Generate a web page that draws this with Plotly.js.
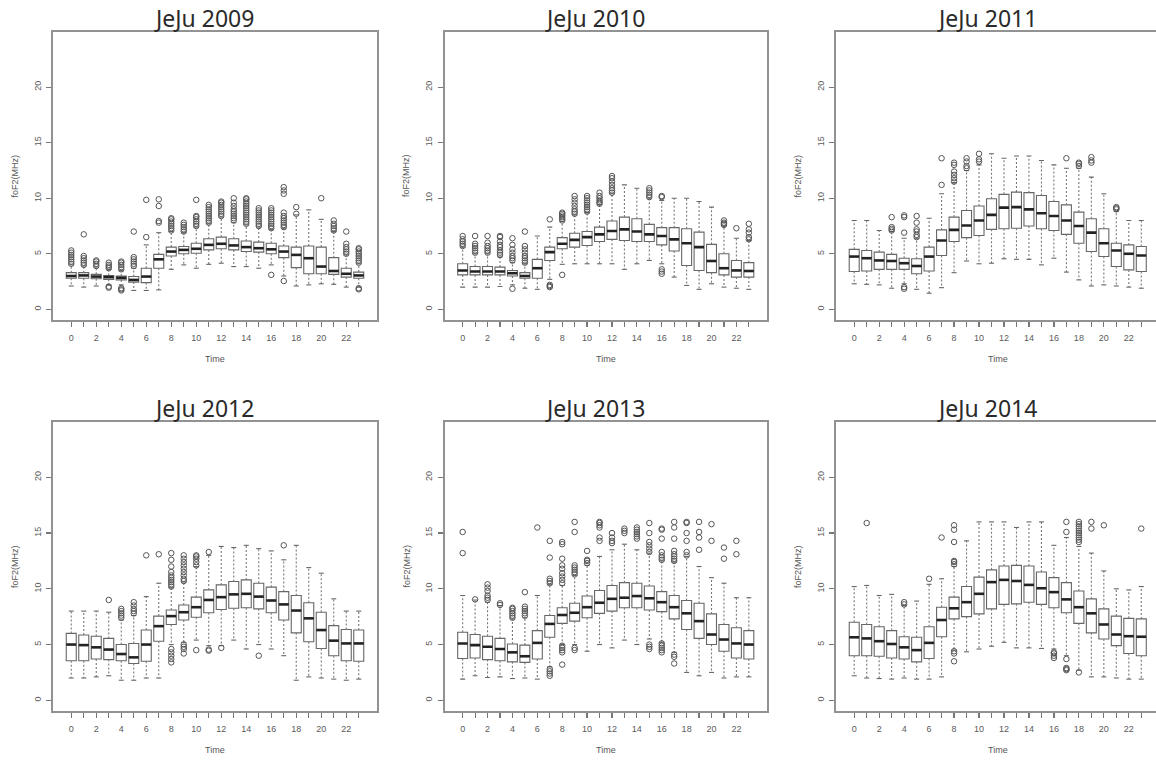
<!DOCTYPE html>
<html>
<head>
<meta charset="utf-8">
<script src="https://cdn.plot.ly/plotly-3.0.1.min.js"></script>
<style>
html,body{margin:0;padding:0;background:#fff;overflow:hidden;width:1156px;height:760px;}
#chart{width:1170px;height:760px;}
</style>
</head>
<body>
<div id="chart"></div>
<script>
// ---------- data ----------
const hours = [0,1,2,3,4,5,6,7,8,9,10,11,12,13,14,15,16,17,18,19,20,21,22,23];
const hourLabels = ["0","","2","","4","","6","","8","","10","","12","","14","","16","","18","","20","","22",""];
const yTicks = [0,5,10,15,20];
const years = [2009,2010,2011,2012,2013,2014];

const lo2009  = [2.1,2.0,2.1,2.2,2.2,1.7,1.7,1.75,3.6,4.0,3.7,4.05,4.15,3.85,3.85,3.7,4.0,3.0,2.1,2.2,2.3,2.25,2.0,2.0];
const q1_2009 = [2.8,2.8,2.75,2.7,2.65,2.45,2.4,3.7,4.8,5.0,5.05,5.35,5.45,5.35,5.2,5.15,5.0,4.65,3.75,3.2,3.2,3.15,2.9,2.8];
const med2009 = [3.0,3.05,2.95,2.9,2.85,2.65,2.95,4.5,5.2,5.35,5.45,5.8,5.9,5.75,5.6,5.5,5.4,5.2,4.9,4.6,3.85,3.45,3.2,3.05];
const q3_2009 = [3.3,3.3,3.15,3.05,3.0,2.95,3.7,4.95,5.6,5.65,5.95,6.35,6.5,6.35,6.15,6.05,5.95,5.7,5.6,5.7,5.6,4.65,3.7,3.35];
const hi2009  = [4.0,3.9,3.8,3.6,3.5,3.7,5.8,6.9,7.0,6.9,7.4,7.7,8.3,7.8,7.6,7.4,7.2,7.3,8.5,8.95,8.1,7.0,4.9,4.1];
const out2009 = [[4.1,4.3,4.5,4.7,4.9,5.1,5.3],[4.0,4.2,4.4,4.6,4.8,6.75],[3.9,4.1,4.3,4.4],[1.95,2.05,3.7,3.85,4.0,4.2],
  [1.7,1.8,1.9,3.6,3.8,4.0,4.2,4.3],[3.9,4.1,4.3,4.5,4.7,7.0],[6.5,9.85],[7.8,7.95,9.3,9.9],
  [7.1,7.3,7.5,7.7,7.9,8.1,8.2],[7.0,7.2,7.4,7.6,7.8],[7.5,7.7,7.9,8.1,8.3,8.4,9.85],[7.8,8.0,8.2,8.4,8.6,8.8,9.0,9.2,9.4],
  [8.4,8.6,8.8,9.0,9.2,9.4,9.6,9.7],[8.0,8.2,8.4,8.6,8.8,9.0,9.3,9.6,10.0],[7.7,7.9,8.1,8.3,8.5,8.7,8.9,9.1,9.3,9.5,9.7,9.9,10.0],[7.5,7.7,7.9,8.1,8.3,8.5,8.7,8.9,9.1],
  [3.1,7.3,7.5,7.7,7.9,8.1,8.3,8.5,8.7,8.9,9.1],[2.55,7.4,7.6,7.8,8.0,8.2,8.4,8.7,10.4,10.7,11.0],[8.6,9.2],[],
  [10.0],[7.1,7.3,7.5,7.7,8.0],[5.0,5.2,5.4,5.6,5.9,7.0],[1.8,1.9,4.2,4.4,4.6,4.8,5.0,5.2,5.4,5.5]];

const lo2010  = [2.0,2.0,2.0,2.05,2.2,1.9,1.8,2.7,4.05,4.1,4.1,4.1,4.1,3.6,4.1,4.4,4.1,2.9,2.15,1.8,2.3,2.0,1.9,1.8];
const q1_2010 = [3.1,3.1,3.1,3.1,3.0,2.8,2.8,4.4,5.45,5.6,5.75,6.1,6.3,6.2,6.1,6.1,5.8,5.25,3.95,3.5,3.3,3.1,2.9,2.9];
const med2010 = [3.5,3.4,3.4,3.4,3.25,3.0,3.7,5.15,5.9,6.25,6.5,6.75,7.05,7.2,7.0,6.75,6.6,6.3,5.95,5.6,4.35,3.7,3.5,3.45];
const q3_2010 = [4.1,3.85,3.85,3.8,3.5,3.3,4.5,5.6,6.45,6.85,7.0,7.4,7.95,8.3,8.15,7.65,7.35,7.35,7.25,6.95,5.85,5.0,4.4,4.2];
const hi2010  = [5.6,5.0,5.0,4.7,4.2,4.1,6.6,7.4,7.9,8.5,8.7,9.4,10.4,11.2,10.9,10.0,9.8,10.0,10.0,9.7,9.2,7.5,6.4,6.2];
const out2010 = [[5.7,5.9,6.1,6.3,6.6],[5.1,5.3,5.5,5.7,5.9,6.6],[5.1,5.3,5.5,5.7,6.0,6.6],[4.9,5.1,5.3,5.6,5.8,6.1,6.5,6.6],
  [1.85,4.4,4.6,4.8,5.1,5.4,5.8,6.4],[4.2,4.4,4.6,4.8,5.1,5.4,5.7,7.0],[],[2.0,2.1,2.2,8.1],
  [3.1,8.0,8.15,8.3,8.45,8.6,8.7],[8.6,8.8,9.0,9.3,9.6,9.9,10.2],[8.8,9.0,9.2,9.4,9.6,9.8,10.0,10.2],[9.5,9.65,9.8,10.0,10.2,10.5],
  [10.5,10.7,10.9,11.2,11.5,11.8,12.0],[],[],[10.1,10.3,10.5,10.7,10.9],
  [3.2,3.4,3.6,10.1,10.2],[],[],[],
  [],[7.6,7.7,7.8,8.0],[7.3],[6.3,6.5,6.9,7.2,7.7]];

const lo2011  = [2.3,2.25,2.2,1.9,2.3,1.8,1.45,1.95,3.3,4.35,4.1,4.15,4.55,4.5,4.5,4.0,4.6,3.35,2.65,2.1,2.2,2.1,2.0,1.9];
const q1_2011 = [3.4,3.45,3.6,3.6,3.6,3.2,3.45,4.85,6.1,6.45,6.65,7.2,7.25,7.3,7.5,7.25,7.1,6.75,5.95,5.2,4.75,3.85,3.55,3.4];
const med2011 = [4.75,4.6,4.4,4.35,4.15,3.9,4.75,6.2,7.15,7.55,8.0,8.5,9.15,9.2,9.0,8.65,8.4,8.0,7.5,6.9,5.95,5.3,5.0,4.85];
const q3_2011 = [5.4,5.3,5.15,4.95,4.6,4.55,5.6,7.15,8.3,8.9,9.3,9.95,10.35,10.55,10.5,10.25,9.7,9.4,8.75,8.15,7.25,5.95,5.8,5.65];
const hi2011  = [8.0,8.0,7.1,7.0,6.4,6.4,8.2,10.4,11.4,12.5,13.0,14.0,13.6,13.8,13.8,13.4,13.0,12.7,12.7,11.9,10.4,8.8,8.0,8.0];
const out2011 = [[],[],[],[7.1,7.25,7.4,8.3],
  [1.85,2.0,6.9,8.3,8.45],[6.5,6.7,7.0,7.2,7.8,8.4],[],[11.2,13.6],
  [11.5,11.8,12.1,12.4,13.0,13.2],[12.7,12.9,13.3,13.6],[13.3,13.5,14.0],[],
  [],[],[],[],
  [],[13.6],[12.9,13.1,13.2],[13.2,13.4,13.7],
  [],[9.0,9.1,9.2],[],[]];

const lo2012  = [2.0,2.0,2.1,2.2,1.8,1.8,2.0,2.0,5.0,5.2,5.4,4.9,4.9,5.4,4.6,5.0,4.6,4.0,1.8,2.1,2.0,1.9,1.8,1.9];
const q1_2012 = [3.55,3.55,3.7,3.65,3.55,3.3,3.5,5.3,6.8,7.2,7.45,7.85,8.15,8.25,8.3,8.2,7.85,7.2,6.05,5.25,4.65,4.0,3.55,3.5];
const med2012 = [5.0,4.95,4.75,4.55,4.15,3.85,5.0,6.65,7.55,7.9,8.35,9.0,9.25,9.5,9.55,9.3,8.95,8.6,8.05,7.35,6.3,5.35,5.1,5.1];
const q3_2012 = [6.0,5.85,5.75,5.55,5.0,5.1,6.3,7.55,8.1,8.55,9.25,9.9,10.35,10.65,10.8,10.5,10.15,9.75,9.4,8.75,7.9,6.7,6.35,6.3];
const hi2012  = [8.0,8.0,8.0,7.9,7.2,7.6,9.3,10.5,10.1,10.6,12.0,13.0,13.8,13.7,13.9,13.6,13.4,12.6,13.9,11.9,11.4,9.1,8.0,8.0];
const out2012 = [[],[],[],[9.0],
  [7.4,7.6,7.8,8.0,8.2],[7.8,8.0,8.2,8.5,8.8],[13.0],[13.1],
  [3.4,3.7,4.0,4.3,4.6,10.2,10.4,10.6,10.8,11.0,11.2,11.5,12.0,12.6,13.2],[4.2,4.6,4.8,5.0,10.7,10.9,11.2,11.5,11.8,12.1,12.4,12.7,13.0],[4.5,12.1,12.4,12.7,12.9,13.0],[4.45,4.55,13.3],
  [4.7],[],[],[4.0],
  [],[13.9],[],[],
  [],[],[],[]];

const lo2013  = [1.9,2.2,2.05,2.1,1.95,2.0,1.9,3.0,5.0,5.0,4.4,5.0,4.7,5.4,5.0,5.5,5.2,4.3,2.5,2.2,2.5,2.0,2.1,2.1];
const q1_2013 = [3.75,3.8,3.65,3.55,3.45,3.4,3.7,5.65,6.9,7.1,7.4,7.8,8.0,8.3,8.3,8.1,7.95,7.3,6.35,5.55,5.0,4.4,3.8,3.7];
const med2013 = [5.1,4.95,4.8,4.6,4.3,3.95,5.15,6.85,7.65,7.85,8.35,8.75,9.1,9.2,9.35,9.15,8.8,8.35,7.8,7.1,5.9,5.45,5.1,5.0];
const q3_2013 = [6.1,5.9,5.75,5.55,5.05,4.95,6.25,7.6,8.3,8.7,9.35,9.85,10.3,10.55,10.5,10.25,9.75,9.4,8.95,8.7,7.75,6.8,6.5,6.25];
const hi2013  = [9.4,9.0,8.8,8.5,7.3,7.4,9.4,10.4,10.3,11.2,12.1,12.9,13.5,14.0,13.5,13.2,12.5,12.4,12.9,12.0,11.0,10.5,9.2,9.2];
const out2013 = [[13.2,15.1],[9.05],[9.0,9.2,9.4,9.8,10.1,10.4],[8.55,8.7],
  [7.4,7.6,7.8,8.0,8.2,8.3],[7.6,7.8,8.0,8.2,8.4,9.7],[15.5],[2.2,2.4,2.6,2.8,10.5,10.7,10.9,12.8,14.3],
  [3.2,4.3,4.5,4.7,4.9,10.5,10.8,11.1,11.4,11.8,12.1,12.7,14.0,14.2],[4.5,4.7,11.3,11.5,11.7,11.9,12.1,15.1,16.0],[12.3,12.5,12.6,13.4],[14.3,14.6,15.5,15.7,15.9,16.0],
  [14.1,14.3,14.6,15.0],[15.0,15.2,15.4],[14.5,14.7,14.9,15.1,15.3,15.5],[4.6,4.8,5.0,13.3,13.6,13.9,14.2,15.0,15.9],
  [4.3,4.5,4.7,4.9,5.1,12.6,12.8,13.0,13.3,14.5,15.3,15.4],[3.3,3.9,4.1,12.5,12.7,12.9,13.1,13.4,14.5,15.5,16.0],[13.0,13.3,14.3,15.0,15.9,16.0],[13.5,14.6,15.1,16.0],
  [14.3,15.8],[12.7,13.7],[13.1,14.3],[]];

const lo2014  = [2.2,2.0,1.95,1.9,2.0,1.9,1.9,2.1,4.5,4.35,4.6,4.85,5.2,4.7,4.7,4.65,4.6,4.0,2.7,2.1,2.1,2.0,1.9,1.9];
const q1_2014 = [4.0,4.0,3.95,3.8,3.7,3.45,3.75,5.7,7.3,7.5,7.75,8.2,8.6,8.65,8.8,8.6,8.3,7.85,6.9,6.05,5.5,4.9,4.2,4.0];
const med2014 = [5.65,5.55,5.3,5.05,4.75,4.5,5.15,7.2,8.25,8.8,9.55,10.6,10.8,10.7,10.35,10.05,9.7,9.05,8.35,7.8,6.8,5.9,5.75,5.7];
const q3_2014 = [7.0,6.8,6.6,6.25,5.7,5.65,6.6,8.35,9.25,10.2,11.05,11.7,12.05,12.1,12.05,11.5,11.0,10.55,9.8,9.1,8.2,7.55,7.35,7.3];
const hi2014  = [10.2,10.3,9.4,9.5,8.5,8.9,10.4,10.9,12.0,14.3,16.0,16.0,16.0,15.5,16.0,16.0,13.9,14.6,13.8,13.2,11.6,10.0,9.9,10.2];
const out2014 = [[],[15.9],[],[],
  [8.6,8.8],[],[10.9],[14.6],
  [3.5,4.2,4.4,12.2,12.4,12.5,14.2,15.3,15.7],[],[],[],
  [],[],[],[],
  [3.8,4.0,4.2,4.3],[2.7,2.8,2.9,3.7,15.1,16.0],[2.5,14.2,14.4,14.6,14.8,15.0,15.2,15.4,15.6,15.8,16.0],[15.4,16.0],
  [15.7],[],[],[15.4]];

// ---------- layout geometry (pixels) ----------
const W = 1170, H = 760;
const colPx = [[53,377],[444.5,767],[836,1159.5]];
const rowPx = [[32,320],[422,711]];

const series = {
  2009:{lo:lo2009,q1:q1_2009,med:med2009,q3:q3_2009,hi:hi2009,out:out2009},
  2010:{lo:lo2010,q1:q1_2010,med:med2010,q3:q3_2010,hi:hi2010,out:out2010},
  2011:{lo:lo2011,q1:q1_2011,med:med2011,q3:q3_2011,hi:hi2011,out:out2011},
  2012:{lo:lo2012,q1:q1_2012,med:med2012,q3:q3_2012,hi:hi2012,out:out2012},
  2013:{lo:lo2013,q1:q1_2013,med:med2013,q3:q3_2013,hi:hi2013,out:out2013},
  2014:{lo:lo2014,q1:q1_2014,med:med2014,q3:q3_2014,hi:hi2014,out:out2014}
};

const traces = [];
const layout = {
  width: W, height: H,
  margin: {l:0,r:0,t:0,b:0},
  paper_bgcolor: '#fff', plot_bgcolor: '#fff',
  showlegend: false,
  font: {family: 'Liberation Sans, Arial, sans-serif', color: '#555'},
  annotations: []
};

const boxHalf = 0.4, capHalf = 0.2;

years.forEach((yr, i) => {
  const s = series[yr];
  const c = i % 3, r = Math.floor(i / 3);
  const n = i + 1;
  const xa = n === 1 ? 'x' : 'x' + n, ya = n === 1 ? 'y' : 'y' + n;
  const xk = n === 1 ? 'xaxis' : 'xaxis' + n, yk = n === 1 ? 'yaxis' : 'yaxis' + n;
  const xd = [colPx[c][0] / W, colPx[c][1] / W];
  const yd = [1 - rowPx[r][1] / H, 1 - rowPx[r][0] / H];

  layout[xk] = {
    domain: xd, anchor: ya, range: [-1.46, 24.46],
    tickmode: 'array', tickvals: hours, ticktext: hourLabels,
    ticks: 'outside', ticklen: 5, tickwidth: 1.2, tickcolor: '#777',
    showline: true, mirror: true, linecolor: '#929292', linewidth: 1.8,
    showgrid: false, zeroline: false,
    tickfont: {size: 9, color: '#5a5a5a'}, ticklabelstandoff: 3
  };
  layout[yk] = {
    domain: yd, anchor: xa, range: [-0.96, 24.96],
    tickmode: 'array', tickvals: yTicks, ticktext: yTicks.map(String),
    tickangle: -90,
    ticks: 'outside', ticklen: 5, tickwidth: 1.2, tickcolor: '#777',
    showline: true, mirror: true, linecolor: '#929292', linewidth: 1.8,
    showgrid: false, zeroline: false,
    tickfont: {size: 9, color: '#5a5a5a'}, ticklabelstandoff: 2
  };

  // whiskers (dashed) and staples
  const wx = [], wy = [], cx = [], cy = [];
  hours.forEach((h, k) => {
    wx.push(h, h, null, h, h, null);
    wy.push(s.q3[k], s.hi[k], null, s.q1[k], s.lo[k], null);
    cx.push(h - capHalf, h + capHalf, null, h - capHalf, h + capHalf, null);
    cy.push(s.hi[k], s.hi[k], null, s.lo[k], s.lo[k], null);
  });
  traces.push({type:'scatter', mode:'lines', x:wx, y:wy, xaxis:xa, yaxis:ya,
    line:{color:'#777', width:1.1, dash:'2px,2px'}, hoverinfo:'skip'});
  traces.push({type:'scatter', mode:'lines', x:cx, y:cy, xaxis:xa, yaxis:ya,
    line:{color:'#666', width:1.1}, hoverinfo:'skip'});

  // boxes (q1..q3 with median)
  traces.push({type:'box', x:hours, q1:s.q1, median:s.med, q3:s.q3,
    lowerfence:s.q1, upperfence:s.q3, width:0.8, whiskerwidth:0,
    boxpoints:false, xaxis:xa, yaxis:ya,
    line:{color:'#666', width:1.1}, fillcolor:'rgba(255,255,255,1)', hoverinfo:'skip'});

  // thick medians
  const mx = [], my = [];
  hours.forEach((h, k) => { mx.push(h - boxHalf, h + boxHalf, null); my.push(s.med[k], s.med[k], null); });
  traces.push({type:'scatter', mode:'lines', x:mx, y:my, xaxis:xa, yaxis:ya,
    line:{color:'#222', width:2.6}, hoverinfo:'skip'});

  // outliers
  const ox = [], oy = [];
  hours.forEach((h, k) => s.out[k].forEach(v => { ox.push(h); oy.push(v); }));
  traces.push({type:'scatter', mode:'markers', x:ox, y:oy, xaxis:xa, yaxis:ya,
    marker:{symbol:'circle-open', size:5.5, color:'#555', line:{width:1, color:'#555'}}, hoverinfo:'skip'});

  // titles
  const left = colPx[c][0], right = colPx[c][1], top = rowPx[r][0], bot = rowPx[r][1];
  layout.annotations.push({xref:'paper', yref:'paper', x:(left + 150.5) / W, y:1 - (top - 14) / H,
    xanchor:'center', yanchor:'middle', showarrow:false, text:'JeJu ' + yr,
    font:{family:'Noto Sans, Open Sans, sans-serif', size:23, color:'#2a2a2a'}});
  layout.annotations.push({xref:'paper', yref:'paper', x:(left + right) / 2 / W, y:1 - (bot + 39) / H,
    xanchor:'center', yanchor:'middle', showarrow:false, text:'Time',
    font:{size:9, color:'#555'}});
  layout.annotations.push({xref:'paper', yref:'paper', x:(left - 38.5) / W, y:1 - (top + bot) / 2 / H,
    xanchor:'center', yanchor:'middle', showarrow:false, text:'foF2(MHz)', textangle:-90,
    font:{size:9, color:'#555'}});
});

Plotly.newPlot('chart', traces, layout, {staticPlot:true, displayModeBar:false});
</script>
</body>
</html>
